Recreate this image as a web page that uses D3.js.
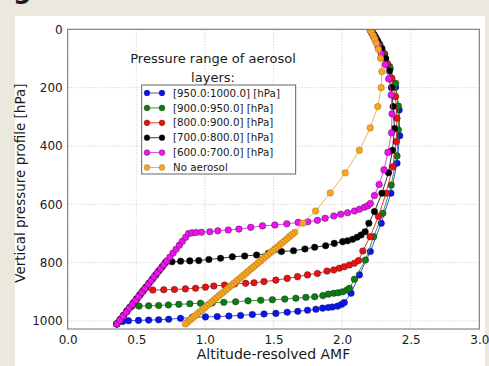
<!DOCTYPE html>
<html>
<head>
<meta charset="utf-8">
<script src="https://cdn.jsdelivr.net/npm/d3@7/dist/d3.min.js"></script>
<style>
body{margin:0;background:#ebe9de;overflow:hidden;}
svg text{font-family:"DejaVu Sans",sans-serif;fill:#1a1a1a;}
</style>
</head>
<body>
<svg id="chart" width="489" height="366"></svg>
<script>
// tick labels
var xTicks = [0.0, 0.5, 1.0, 1.5, 2.0, 2.5, 3.0];
var yTicks = [0, 200, 400, 600, 800, 1000];

var legendLabels = ["[950.0:1000.0] [hPa]", "[900.0:950.0] [hPa]", "[800.0:900.0] [hPa]",
                    "[700.0:800.0] [hPa]", "[600.0:700.0] [hPa]", "No aerosol"];

// aerosol layer 950-1000 hPa
var amf950 = [0.358,0.40,0.443,0.516,0.59,0.663,0.736,0.822,0.907,1.004,1.09,1.175,1.26,1.346,1.431,1.517,1.60,1.677,1.748,1.809,1.858,1.90,1.93,1.968,1.997,2.016,
              2.065,2.126,2.206,2.285,2.356,2.40,2.42,2.416,2.39,2.35,2.31,2.275,2.248,2.225,2.208];
var pres950 = [1010,1002,999,998,997,996,994,991,988,986,985,983,981,978,976,974,970,967,963,960,956,954,952,949,943,937,
               905,842,762,665,562,459,365,277,199,135,88,55,31,14,3];

// aerosol layer 900-950 hPa
var amf900 = [0.358,0.383,0.409,0.434,0.47,0.52,0.59,0.663,0.734,0.81,0.89,0.968,1.053,1.138,1.224,1.314,1.407,1.492,1.582,1.663,1.736,1.80,1.86,1.90,1.939,1.972,2.004,2.036,2.053,
              2.09,2.17,2.23,2.297,2.358,2.40,2.41,2.41,2.39,2.346,2.31,2.275,2.247,2.225,2.208];
var pres900 = [1010,995,980,965,949,949,948,947,945,943,941,939,938,936,934,931,929,927,925,922,919,917,913,908,905,903,900,894,888,
               857,791,711,631,534,434,345,263,185,128,85,52,29,13,3];

// aerosol layer 800-900 hPa
var amf800 = [0.358,0.383,0.407,0.432,0.456,0.481,0.505,0.530,0.554,0.62,0.70,0.778,0.858,0.932,1.004,1.065,1.143,1.217,1.297,1.358,1.431,1.517,1.60,1.675,1.748,1.82,1.89,1.939,1.98,2.016,2.053,2.09,2.12,
              2.151,2.204,2.265,2.32,2.37,2.395,2.40,2.39,2.363,2.33,2.30,2.27,2.243,2.222,2.207];
var pres800 = [1010,995,981,966,952,937,923,908,894,894,893,892,890,888,884,880,877,873,871,869,865,860,854,848,842,837,829,825,819,814,808,802,793,
               760,711,642,562,471,385,305,231,168,117,80,50,28,12,3];

// aerosol layer 700-800 hPa
var amf700 = [0.358,0.382,0.405,0.429,0.453,0.476,0.500,0.524,0.547,0.571,0.594,0.618,0.642,0.665,0.689,0.712,
              0.76,0.823,0.89,0.955,1.029,1.114,1.20,1.29,1.377,1.463,1.558,1.646,1.729,1.80,1.88,1.943,2.004,2.04,2.077,2.109,2.138,2.168,
              2.195,2.236,2.29,2.338,2.367,2.382,2.372,2.36,2.345,2.318,2.29,2.26,2.235,2.212];
var pres700 = [1010,996,982,968,954,940,926,912,898,884,870,856,842,828,814,800,
               797,795,794,793,789,785,780,777,774,768,762,759,753,747,742,734,728,725,720,713,705,694,
               665,625,562,492,415,340,265,200,143,100,66,40,20,6];

// aerosol layer 600-700 hPa
var amf600 = [0.358,0.380,0.404,0.426,0.449,0.471,0.495,0.517,0.540,0.562,0.586,0.608,0.631,0.653,0.677,0.699,0.723,0.745,0.768,0.790,0.814,0.836,0.860,0.881,
              0.905,0.935,0.975,1.036,1.094,1.17,1.248,1.334,1.42,1.51,1.597,1.68,1.75,1.82,1.876,1.94,1.99,2.04,2.09,2.126,2.163,2.187,2.206,
              2.236,2.27,2.305,2.334,2.36,2.364,2.358,2.34,2.315,2.285,2.262,2.245,2.23,2.217,2.206];
var pres600 = [1010,997,983,970,956,943,929,916,902,889,875,862,848,835,821,808,794,781,767,754,740,727,713,700,
               698,697,696,694,691,688,685,679,674,671,667,662,660,655,648,640,634,629,623,617,610,605,597,
               570,532,482,422,355,290,225,170,121,84,58,40,26,14,4];

// no aerosol
var amfClear = [2.205,2.216,2.228,2.238,2.25,2.265,2.28,2.29,2.285,2.26,2.205,2.126,2.023,1.914,1.807,1.714,1.655,
                1.637,1.619,1.602,1.584,1.566,1.548,1.531,1.513,1.495,1.477,1.460,1.442,1.424,1.406,1.389,1.371,1.353,1.335,1.317,1.300,
                1.282,1.264,1.246,1.229,1.211,1.193,1.175,1.158,1.140,1.122,1.104,1.086,1.069,1.051,1.033,1.015,0.998,0.980,0.962,0.944,
                0.927,0.909,0.891,0.873,0.858];
var presClear = [3,11,22,34,48,69,99,145,200,265,338,415,492,561,623,665,696,
                 703,710,717,724,731,738,745,752,759,766,773,780,787,794,801,808,815,822,829,836,
                 843,850,857,864,871,878,885,892,899,906,913,920,927,934,941,948,955,962,969,976,
                 983,990,997,1004,1010];

var colors = ["#0a14f0", "#0c7d12", "#ee1010", "#000000", "#f010f0", "#f5a623"];
var lineColors = ["#3040e0", "#2a8a2a", "#e02020", "#222222", "#e030e0", "#e8b040"];

var svg = d3.select("#chart");
var width = +svg.attr("width"), height = +svg.attr("height");

svg.append("rect").attr("x",0).attr("y",0).attr("width",width).attr("height",height).attr("fill","#ebe9de");
svg.append("text").attr("x",13).attr("y",-2).style("font-size","26px").style("font-weight","bold").text("g");
svg.append("rect").attr("x",15).attr("y",16).attr("width",470).attr("height",350).attr("fill","#ffffff");

// plot box (window.top is read-only, so no "top" here)
var plotL = 67.7, plotR = 479.3, plotT = 29.3, plotB = 329;
var x = d3.scaleLinear().domain([0,3]).range([plotL,plotR]);
var y = d3.scaleLinear().domain([0,1027.5]).range([plotT,plotB]);

// grid
var grid = svg.append("g").attr("stroke","#b8b8b8").attr("stroke-width",0.8).attr("stroke-dasharray","1,2");
grid.selectAll(".gx").data(xTicks).enter().append("line")
    .attr("x1",d=>x(d)).attr("x2",d=>x(d)).attr("y1",plotT).attr("y2",plotB);
grid.selectAll(".gy").data(yTicks).enter().append("line")
    .attr("x1",plotL).attr("x2",plotR).attr("y1",d=>y(d)).attr("y2",d=>y(d));

// axes
var xAxis = d3.axisBottom(x).tickValues(xTicks).tickFormat(d3.format(".1f")).tickSize(0).tickPadding(6);
var yAxis = d3.axisLeft(y).tickValues(yTicks).tickFormat(d3.format("d")).tickSize(0).tickPadding(5);
var gx = svg.append("g").attr("transform","translate(0,"+plotB+")").call(xAxis);
var gy = svg.append("g").attr("transform","translate("+plotL+",0)").call(yAxis);
gx.select(".domain").remove();
gy.select(".domain").remove();
gx.selectAll("text").style("font-size","12px").attr("fill","#1a1a1a");
gy.selectAll("text").style("font-size","12px").attr("fill","#1a1a1a");

svg.append("defs").append("clipPath").attr("id","clip")
   .append("rect").attr("x",plotL).attr("y",plotT).attr("width",plotR-plotL).attr("height",plotB-plotT);

var series = [[amf950,pres950],[amf900,pres900],[amf800,pres800],[amf700,pres700],[amf600,pres600],[amfClear,presClear]];
var plot = svg.append("g").attr("clip-path","url(#clip)");
var line = d3.line().x(d=>x(d[0])).y(d=>y(d[1]));

series.forEach(function(s,i){
    var pts = d3.zip(s[0],s[1]);
    plot.append("path").datum(pts).attr("d",line)
        .attr("fill","none").attr("stroke",lineColors[i]).attr("stroke-width",0.9);
    plot.selectAll(".p"+i).data(pts).enter().append("circle")
        .attr("cx",d=>x(d[0])).attr("cy",d=>y(d[1])).attr("r",3.3)
        .attr("fill",colors[i]).attr("stroke", i==5 ? "#9a6a10" : "#222").attr("stroke-width",0.4);
});

// frame
svg.append("rect").attr("x",plotL).attr("y",plotT).attr("width",plotR-plotL).attr("height",plotB-plotT)
   .attr("fill","none").attr("stroke","#6e6e6e").attr("stroke-width",1);

// axis titles
svg.append("text").attr("x",(plotL+plotR)/2).attr("y",359).attr("text-anchor","middle")
   .style("font-size","14px").text("Altitude-resolved AMF");
svg.append("text").attr("transform","translate(25,"+((plotT+plotB)/2+4)+") rotate(-90)")
   .attr("text-anchor","middle").style("font-size","13.5px").text("Vertical pressure profile [hPa]");

// legend
svg.append("text").attr("x",213).attr("y",63).attr("text-anchor","middle").style("font-size","13px").text("Pressure range of aerosol");
svg.append("text").attr("x",213).attr("y",82).attr("text-anchor","middle").style("font-size","13px").text("layers:");

var lg = svg.append("g");
lg.append("rect").attr("x",141.7).attr("y",85).attr("width",154).attr("height",89)
  .attr("fill","#ffffff").attr("stroke","#555").attr("stroke-width",0.9);
legendLabels.forEach(function(t,i){
    var ly = 93 + i*14.9;
    lg.append("line").attr("x1",147).attr("x2",162).attr("y1",ly).attr("y2",ly)
      .attr("stroke",lineColors[i]).attr("stroke-width",0.9);
    [147,162].forEach(function(cx){
        lg.append("circle").attr("cx",cx).attr("cy",ly).attr("r",2.9)
          .attr("fill",colors[i]).attr("stroke", i==5 ? "#9a6a10" : "#222").attr("stroke-width",0.4);
    });
    lg.append("text").attr("x",173).attr("y",ly+3.6).style("font-size","10.3px").text(t);
});
</script>
</body>
</html>
